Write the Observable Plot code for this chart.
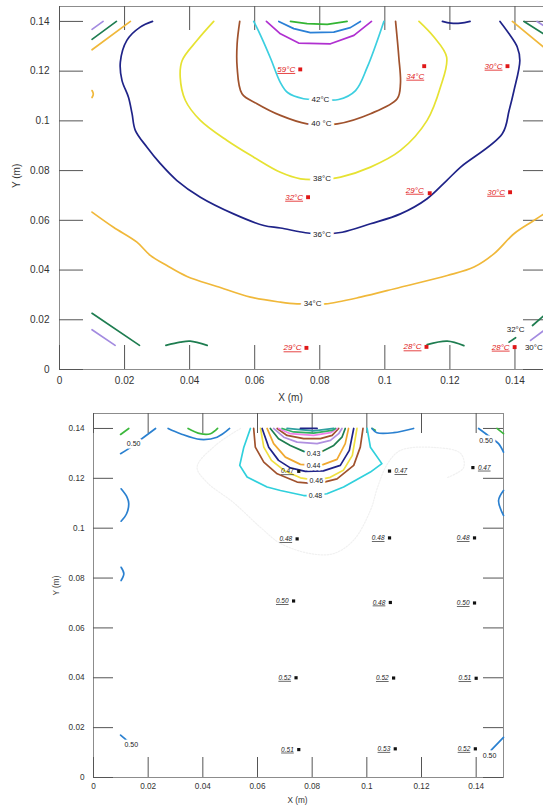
<!DOCTYPE html>
<html>
<head>
<meta charset="utf-8">
<script src="https://cdn.jsdelivr.net/npm/d3@7"></script>
<script src="https://cdn.jsdelivr.net/npm/@observablehq/plot@0.6"></script>
<style>
  html, body { margin: 0; padding: 0; background: #fff; overflow: hidden; }
  #charts svg { display: block; }
</style>
</head>
<body>
<div id="charts"></div>
<script>
// ---------- axis ticks (m) ----------
const xTicks = [0, 0.02, 0.04, 0.06, 0.08, 0.1, 0.12, 0.14];
const yTicks = [0, 0.02, 0.04, 0.06, 0.08, 0.1, 0.12, 0.14];

// ---------- temperature isotherms, [x, y] in metres ----------
const t30a = [[0.0100, 0.1368], [0.0134, 0.1400]];
const t30b = [[0.1468, 0.1400], [0.1500, 0.1373]];
const t30c = [[0.0100, 0.0160], [0.0171, 0.0097]];
const t30d = [[0.1448, 0.0117], [0.1500, 0.0168]];

const t32a = [[0.0100, 0.1328], [0.0175, 0.1400]];
const t32b = [[0.1428, 0.1400], [0.1500, 0.1340]];
const t32c = [[0.0100, 0.0226], [0.0246, 0.0097]];
const t32d = [[0.0327, 0.0097], [0.0371, 0.0110], [0.0402, 0.0114], [0.0454, 0.0097]];
const t32e = [[0.1130, 0.0100], [0.1192, 0.0114], [0.1243, 0.0096]];
const t32f = [[0.1382, 0.0110], [0.1402, 0.0128]];
const t32g = [[0.1454, 0.0177], [0.1500, 0.0230]];

const t34a = [[0.0100, 0.1286], [0.0218, 0.1400]];
const t34b = [[0.0100, 0.1122], [0.0104, 0.1108], [0.0100, 0.1094]];
const t34c = [[0.1392, 0.1400], [0.1500, 0.1284]];
const t34d = [[0.0100, 0.0633], [0.0166, 0.0572], [0.0238, 0.0512], [0.0279, 0.0459], [0.0330, 0.0418],
  [0.0392, 0.0374], [0.0484, 0.0334], [0.0587, 0.0291], [0.0679, 0.0271], [0.0730, 0.0264],
  [0.0778, 0.0264], [0.0818, 0.0264], [0.0925, 0.0291], [0.1048, 0.0331], [0.1192, 0.0378],
  [0.1274, 0.0412], [0.1335, 0.0465], [0.1397, 0.0546], [0.1458, 0.0599], [0.1500, 0.0636]];

const t36a = [[0.0286, 0.1400], [0.0248, 0.1377], [0.0207, 0.1324], [0.0187, 0.1236], [0.0192, 0.1163],
  [0.0212, 0.1095], [0.0223, 0.1029], [0.0233, 0.0962], [0.0269, 0.0894], [0.0310, 0.0828],
  [0.0361, 0.0760], [0.0433, 0.0693], [0.0535, 0.0626], [0.0628, 0.0579], [0.0679, 0.0569],
  [0.0756, 0.0550], [0.0807, 0.0545], [0.0869, 0.0552], [0.0956, 0.0586], [0.1048, 0.0626],
  [0.1130, 0.0687], [0.1190, 0.0760], [0.1233, 0.0814], [0.1361, 0.0948], [0.1382, 0.1042],
  [0.1397, 0.1122], [0.1415, 0.1243], [0.1407, 0.1297], [0.1382, 0.1350], [0.1354, 0.1400]];
const t36b = [[0.1177, 0.1400], [0.1203, 0.1393], [0.1233, 0.1393], [0.1262, 0.1400]];

const t38 = [[0.0474, 0.1400], [0.0423, 0.1324], [0.0377, 0.1243], [0.0371, 0.1176], [0.0387, 0.1082],
  [0.0433, 0.1002], [0.0515, 0.0921], [0.0597, 0.0854], [0.0679, 0.0793], [0.0741, 0.0767],
  [0.0807, 0.0765], [0.0864, 0.0774], [0.0956, 0.0814], [0.1048, 0.0881], [0.1130, 0.1002],
  [0.1171, 0.1136], [0.1190, 0.1256], [0.1151, 0.1337], [0.1105, 0.1400]];

const t40 = [[0.0554, 0.1400], [0.0546, 0.1310], [0.0546, 0.1216], [0.0561, 0.1109], [0.0607, 0.1069],
  [0.0679, 0.1022], [0.0761, 0.0988], [0.0805, 0.0986], [0.0854, 0.0988], [0.0956, 0.1029],
  [0.1038, 0.1089], [0.1048, 0.1149], [0.1043, 0.1256], [0.1033, 0.1400]];

const t42 = [[0.0597, 0.1400], [0.0618, 0.1344], [0.0649, 0.1251], [0.0679, 0.1154], [0.0701, 0.1114],
  [0.0750, 0.1089], [0.0802, 0.1086], [0.0858, 0.1086], [0.0910, 0.1122], [0.0946, 0.1216],
  [0.0997, 0.1400]];

const t44 = [[0.0636, 0.1400], [0.0679, 0.1350], [0.0735, 0.1313], [0.0833, 0.1310], [0.0905, 0.1344], [0.0959, 0.1400]];
const t46 = [[0.0674, 0.1400], [0.0720, 0.1371], [0.0771, 0.1355], [0.0843, 0.1357], [0.0894, 0.1375], [0.0925, 0.1400]];
const t48 = [[0.0710, 0.1400], [0.0761, 0.1391], [0.0823, 0.1388], [0.0884, 0.1400]];

// isotherm labels
const tempLabelText = ["42°C", "40 °C", "38°C", "36°C", "34°C", "32°C", "30°C"];
const tempLabelX = [0.0802, 0.0805, 0.0807, 0.0807, 0.0778, 0.1402, 0.1458];
const tempLabelY = [0.1086, 0.0988, 0.0767, 0.0545, 0.0266, 0.0161, 0.0090];

// measured temperatures (°C) at the probe positions
const tempX = [0.0740, 0.1121, 0.1377, 0.0764, 0.1138, 0.1385, 0.0759, 0.1128, 0.1399];
const tempY = [0.1207, 0.1220, 0.1220, 0.0693, 0.0709, 0.0713, 0.0087, 0.0091, 0.0090];
const tempV = [59, 34, 30, 32, 29, 30, 29, 28, 28];

// ---------- moisture contours, [x, y] in metres ----------
const m51a = [[0.0099, 0.1376], [0.0129, 0.1400]];
const m51b = [[0.0346, 0.1400], [0.0391, 0.1379], [0.0428, 0.1379], [0.0454, 0.1400]];
const m51c = [[0.1019, 0.1400], [0.1031, 0.1393]];
const m51d = [[0.1476, 0.1400], [0.1500, 0.1379]];

const m50a = [[0.0099, 0.1299], [0.0129, 0.1319], [0.0160, 0.1345], [0.0227, 0.1400]];
const m50b = [[0.0273, 0.1400], [0.0318, 0.1379], [0.0391, 0.1356], [0.0452, 0.1365], [0.0498, 0.1400]];
const m50c = [[0.0101, 0.1158], [0.0123, 0.1124], [0.0129, 0.1098], [0.0121, 0.1058], [0.0101, 0.1028]];
const m50d = [[0.0101, 0.0843], [0.0111, 0.0817], [0.0101, 0.0790]];
const m50e = [[0.0099, 0.0170], [0.0121, 0.0150]];
const m50f = [[0.1019, 0.1400], [0.1037, 0.1383], [0.1098, 0.1383], [0.1171, 0.1400]];
const m50g = [[0.1409, 0.1400], [0.1452, 0.1365], [0.1482, 0.1339], [0.1500, 0.1305]];
const m50h = [[0.1500, 0.1151], [0.1482, 0.1111], [0.1500, 0.1051]];
const m50i = [[0.1455, 0.0110], [0.1500, 0.0161]];

const m48 = [[0.0574, 0.1400], [0.0550, 0.1325], [0.0535, 0.1252], [0.0562, 0.1205], [0.0635, 0.1165],
  [0.0684, 0.1151], [0.0769, 0.1131], [0.0812, 0.1131], [0.0854, 0.1138], [0.0915, 0.1165],
  [0.1013, 0.1225], [0.1055, 0.1259], [0.1013, 0.1325], [0.1001, 0.1400]];
const m47 = [[0.0586, 0.1400], [0.0592, 0.1325], [0.0623, 0.1265], [0.0672, 0.1218], [0.0745, 0.1185],
  [0.0818, 0.1178], [0.0891, 0.1198], [0.0952, 0.1252], [0.0976, 0.1325], [0.0986, 0.1400]];
const m46 = [[0.0611, 0.1400], [0.0623, 0.1325], [0.0651, 0.1272], [0.0702, 0.1228], [0.0757, 0.1202],
  [0.0815, 0.1192], [0.0866, 0.1204], [0.0914, 0.1232], [0.0947, 0.1292], [0.0964, 0.1400]];
const m45 = [[0.0617, 0.1400], [0.0641, 0.1325], [0.0677, 0.1272], [0.0720, 0.1242], [0.0775, 0.1228],
  [0.0841, 0.1230], [0.0903, 0.1252], [0.0936, 0.1312], [0.0952, 0.1400]];
const m44 = [[0.0635, 0.1400], [0.0659, 0.1339], [0.0702, 0.1285], [0.0757, 0.1256], [0.0804, 0.1252],
  [0.0837, 0.1254], [0.0891, 0.1276], [0.0921, 0.1339], [0.0933, 0.1400]];
const m43 = [[0.0647, 0.1400], [0.0677, 0.1359], [0.0720, 0.1332], [0.0769, 0.1308], [0.0804, 0.1302],
  [0.0836, 0.1308], [0.0879, 0.1332], [0.0909, 0.1365], [0.0921, 0.1400]];
const m42 = [[0.0659, 0.1400], [0.0696, 0.1365], [0.0745, 0.1345], [0.0818, 0.1339], [0.0867, 0.1352], [0.0897, 0.1379], [0.0909, 0.1400]];
const m41 = [[0.0672, 0.1400], [0.0708, 0.1372], [0.0769, 0.1359], [0.0830, 0.1359], [0.0873, 0.1372], [0.0897, 0.1400]];
const m40 = [[0.0678, 0.1400], [0.0720, 0.1379], [0.0805, 0.1372], [0.0867, 0.1383], [0.0891, 0.1400]];
const m39 = [[0.0690, 0.1400], [0.0732, 0.1386], [0.0805, 0.1381], [0.0873, 0.1392], [0.0885, 0.1400]];
const m38 = [[0.0708, 0.1400], [0.0805, 0.1390], [0.0879, 0.1400]];
const m37 = [[0.0757, 0.1400], [0.0818, 0.1400]];

// faint 0.49 trace around the wetted zone
const m49 = [[0.0538, 0.1400], [0.0446, 0.1332], [0.0379, 0.1245], [0.0416, 0.1183], [0.0512, 0.1103],
  [0.0611, 0.1003], [0.0684, 0.0939], [0.0794, 0.0898], [0.0878, 0.0898], [0.0951, 0.0951],
  [0.1013, 0.1071], [0.1039, 0.1163], [0.1076, 0.1259], [0.1123, 0.1312], [0.1244, 0.1324],
  [0.1343, 0.1300], [0.1354, 0.1243], [0.1295, 0.1203]];

// moisture contour labels
const mLabelText = ["0.43", "0.44", "0.46", "0.48", "0.50", "0.50", "0.50", "0.50"];
const mLabelX = [0.0805, 0.0805, 0.0815, 0.0812, 0.0147, 0.0138, 0.1436, 0.1449];
const mLabelY = [0.1299, 0.1252, 0.1190, 0.1131, 0.1339, 0.0130, 0.1352, 0.0087];

// measured moisture values at the probe positions
const mX = [0.0751, 0.1083, 0.1388, 0.0745, 0.1083, 0.1394, 0.0732, 0.1086, 0.1394, 0.0741, 0.1098, 0.1400, 0.0751, 0.1104, 0.1397];
const mY = [0.1228, 0.1229, 0.1243, 0.0957, 0.0961, 0.0961, 0.0708, 0.0702, 0.0700, 0.0400, 0.0399, 0.0398, 0.0112, 0.0115, 0.0115];
const mV = ["0.47", "0.47", "0.47", "0.48", "0.48", "0.48", "0.50", "0.48", "0.50", "0.52", "0.52", "0.51", "0.51", "0.53", "0.52"];

// ---------- grouping by level ----------
const tempContours = [
  {level: 30, segments: [t30a, t30b, t30c, t30d]},
  {level: 32, segments: [t32a, t32b, t32c, t32d, t32e, t32f, t32g]},
  {level: 34, segments: [t34a, t34b, t34c, t34d]},
  {level: 36, segments: [t36a, t36b]},
  {level: 38, segments: [t38]},
  {level: 40, segments: [t40]},
  {level: 42, segments: [t42]},
  {level: 44, segments: [t44]},
  {level: 46, segments: [t46]},
  {level: 48, segments: [t48]}
];
const moistContours = [
  {level: 0.51, segments: [m51a, m51b, m51c, m51d]},
  {level: 0.50, segments: [m50a, m50b, m50c, m50d, m50e, m50f, m50g, m50h, m50i]},
  {level: 0.48, segments: [m48]},
  {level: 0.47, segments: [m47]},
  {level: 0.46, segments: [m46]},
  {level: 0.45, segments: [m45]},
  {level: 0.44, segments: [m44]},
  {level: 0.43, segments: [m43]},
  {level: 0.42, segments: [m42]},
  {level: 0.41, segments: [m41]},
  {level: 0.40, segments: [m40]},
  {level: 0.39, segments: [m39]},
  {level: 0.38, segments: [m38]},
  {level: 0.37, segments: [m37]}
];

// ---------- styling ----------
const tempColor = {30: "#a38be0", 32: "#1e7d50", 34: "#f0b83a", 36: "#1f2388", 38: "#e6e232",
  40: "#a0522d", 42: "#3ccfe0", 44: "#b030d0", 46: "#2a80d6", 48: "#33b533"};
const moistColor = {0.51: "#3cb83c", 0.50: "#2a80d0", 0.48: "#30d0dc", 0.47: "#a0522d", 0.46: "#f0e040",
  0.45: "#1f2388", 0.44: "#f0a830", 0.43: "#1e7d50", 0.42: "#b090e0", 0.41: "#a0522d",
  0.40: "#f080e8", 0.39: "#30b060", 0.38: "#30a0a0", 0.37: "#1f2388"};
const angular = new Set([44, 46, 48]);
const font = "'Liberation Sans', Arial, sans-serif";
const svgStyle = `max-width:none;overflow:hidden;background:#fff;font-family:${font};`;
const fmt = d => String(d);

function contourMarks(groups, colors, curveFor) {
  return groups.flatMap(({level, segments}) =>
    segments.map(seg => Plot.line(seg, {
      x: d => d[0], y: d => d[1],
      stroke: colors[level], strokeWidth: 1.7,
      curve: curveFor(level)
    })));
}

function haloLabels(xs, ys, texts, size, halo) {
  const idx = texts.map((_, i) => i);
  const base = {x: i => xs[i], y: i => ys[i], text: i => texts[i], fontSize: size};
  return [
    Plot.text(idx, {...base, fill: "white", stroke: "white", strokeWidth: halo}),
    Plot.text(idx, {...base, fill: "#1a1a1a"})
  ];
}

function frameTicks(plotW, plotH, len, color) {
  return [
    Plot.tickY(yTicks, {y: d => d, stroke: color, insetRight: plotW - len}),
    Plot.tickY(yTicks, {y: d => d, stroke: color, insetLeft: plotW - len}),
    Plot.tickX(xTicks, {x: d => d, stroke: color, insetBottom: plotH - len}),
    Plot.tickX(xTicks, {x: d => d, stroke: color, insetTop: plotH - len})
  ];
}

// ---------- temperature field ----------
const W1 = 547, H1 = 408, ml1 = 59, mt1 = 6, mb1 = 39, mr1 = 0;
const pw1 = W1 - ml1 - mr1, ph1 = H1 - mt1 - mb1;
const tIdx = tempV.map((_, i) => i);
const tBase = {x: i => tempX[i], y: i => tempY[i], text: i => `${tempV[i]}°C`,
  fontSize: 8, fontStyle: "italic", fill: "#e01818", textAnchor: "end"};

const tempPlot = Plot.plot({
  width: W1, height: H1,
  marginLeft: ml1, marginRight: mr1, marginTop: mt1, marginBottom: mb1,
  style: svgStyle,
  x: {domain: [0, 0.15]},
  y: {domain: [0, 0.146]},
  marks: [
    Plot.frame({stroke: "#8c8c8c"}),
    ...frameTicks(pw1, ph1, 24, "#555"),
    Plot.axisX(xTicks, {anchor: "bottom", tickSize: 0, tickPadding: 7, tickFormat: fmt, fontSize: 10, fill: "#333", label: null}),
    Plot.axisY(yTicks, {anchor: "left", tickSize: 0, tickPadding: 10, tickFormat: fmt, fontSize: 10, fill: "#333", label: null}),
    Plot.text(["X (m)"], {text: d => d, frameAnchor: "bottom", dy: 31, dx: -13, fontSize: 10, fill: "#333"}),
    Plot.text(["Y (m)"], {text: d => d, frameAnchor: "left", rotate: -90, dx: -43, fontSize: 10, fill: "#333"}),
    ...contourMarks(tempContours, tempColor, lv => angular.has(lv) ? "linear" : "catmull-rom"),
    ...haloLabels(tempLabelX, tempLabelY, tempLabelText, 8, 6),
    Plot.dot(tIdx, {x: i => tempX[i], y: i => tempY[i], symbol: "square", r: 2.2, fill: "#e01818"}),
    Plot.text(tIdx.filter(i => i !== 1 && i !== 4), {...tBase, dx: -5}),
    Plot.text([4], {...tBase, dx: -6, dy: -3}),
    Plot.text([1], {...tBase, dx: 0, dy: 10})
  ]
});

// ---------- moisture field ----------
const W2 = 543, H2 = 401, ml2 = 93, mt2 = 5, mb2 = 32, mr2 = 40;
const pw2 = W2 - ml2 - mr2, ph2 = H2 - mt2 - mb2;
const mIdx = mV.map((_, i) => i);
const mBase = {x: i => mX[i], y: i => mY[i], text: i => mV[i],
  fontSize: 6.5, fontStyle: "italic", fill: "#1a1a1a"};

const moistPlot = Plot.plot({
  width: W2, height: H2,
  marginLeft: ml2, marginRight: mr2, marginTop: mt2, marginBottom: mb2,
  style: svgStyle,
  x: {domain: [0, 0.15]},
  y: {domain: [0, 0.146]},
  marks: [
    Plot.frame({stroke: "#8c8c8c"}),
    ...frameTicks(pw2, ph2, 20, "#555"),
    Plot.axisX(xTicks, {anchor: "bottom", tickSize: 0, tickPadding: 6, tickFormat: fmt, fontSize: 8.2, fill: "#333", label: null}),
    Plot.axisY(yTicks, {anchor: "left", tickSize: 0, tickPadding: 9, tickFormat: fmt, fontSize: 8.2, fill: "#333", label: null}),
    Plot.text(["X (m)"], {text: d => d, frameAnchor: "bottom", dy: 25, dx: -1, fontSize: 8.2, fill: "#333"}),
    Plot.text(["Y (m)"], {text: d => d, frameAnchor: "left", rotate: -90, dx: -37, fontSize: 8.2, fill: "#333"}),
    Plot.line(m49, {x: d => d[0], y: d => d[1], stroke: "#f1f1f1", strokeWidth: 1.2, strokeDasharray: "1.5,1.5", curve: "catmull-rom"}),
    ...contourMarks(moistContours, moistColor, lv => lv >= 0.50 ? "catmull-rom" : "linear"),
    ...haloLabels(mLabelX, mLabelY, mLabelText, 7, 5),
    Plot.dot(mIdx, {x: i => mX[i], y: i => mY[i], symbol: "square", r: 1.8, fill: "#111"}),
    Plot.text(mIdx.filter(i => i !== 1 && i !== 2), {...mBase, textAnchor: "end", dx: -5}),
    Plot.text([1, 2], {...mBase, textAnchor: "start", dx: 5})
  ]
});

const host = document.getElementById("charts");
host.append(tempPlot, moistPlot);

// underline the italic probe readings
for (const t of host.querySelectorAll("text")) {
  if (getComputedStyle(t).fontStyle === "italic") t.style.textDecoration = "underline";
}
</script>
</body>
</html>
